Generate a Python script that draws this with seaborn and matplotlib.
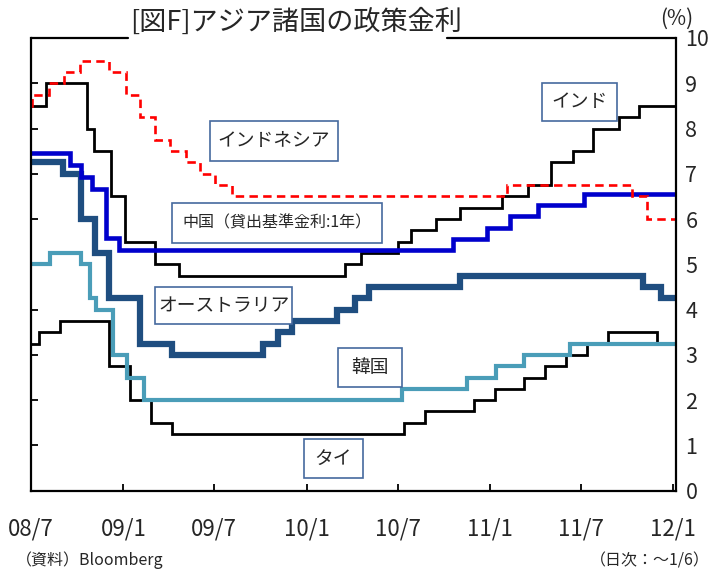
import matplotlib
matplotlib.use("Agg")
import matplotlib.pyplot as plt
from matplotlib.patches import Rectangle
from matplotlib.lines import Line2D
import pandas as pd
import seaborn as sns

sns.set_theme(style="white")
plt.rcParams["font.family"] = ["Liberation Sans Narrow", "Noto Sans CJK JP", "DejaVu Sans"]

W, H = 714, 569
START, END = "2008-07-01", "2012-01-06"

# Policy rate change dates and levels (%), step series
indonesia_dates = ["2008-07-01", "2008-07-03", "2008-08-05", "2008-09-04", "2008-10-07",
                   "2008-12-04", "2009-01-07", "2009-02-04", "2009-03-04", "2009-04-03",
                   "2009-05-05", "2009-06-03", "2009-07-03", "2009-08-05", "2011-02-04",
                   "2011-10-11", "2011-11-10"]
indonesia_rates = [8.5, 8.75, 9.0, 9.25, 9.5, 9.25, 8.75, 8.25, 7.75, 7.5,
                   7.25, 7.0, 6.75, 6.5, 6.75, 6.5, 6.0]

india_dates = ["2008-07-01", "2008-07-30", "2008-10-20", "2008-11-03", "2008-12-08",
               "2009-01-05", "2009-03-05", "2009-04-21", "2010-03-19", "2010-04-20",
               "2010-07-02", "2010-07-27", "2010-09-16", "2010-11-02", "2011-01-25",
               "2011-03-17", "2011-05-03", "2011-06-16", "2011-07-26", "2011-09-16",
               "2011-10-25"]
india_rates = [8.5, 9.0, 8.0, 7.5, 6.5, 5.5, 5.0, 4.75, 5.0, 5.25,
               5.5, 5.75, 6.0, 6.25, 6.5, 6.75, 7.25, 7.5, 8.0, 8.25, 8.5]

china_dates = ["2008-07-01", "2008-09-16", "2008-10-09", "2008-10-30", "2008-11-27",
               "2008-12-23", "2010-10-20", "2010-12-26", "2011-02-09", "2011-04-06",
               "2011-07-07"]
china_rates = [7.47, 7.20, 6.93, 6.66, 5.58, 5.31, 5.56, 5.81, 6.06, 6.31, 6.56]

australia_dates = ["2008-07-01", "2008-09-03", "2008-10-08", "2008-11-05", "2008-12-03",
                   "2009-02-04", "2009-04-08", "2009-10-07", "2009-11-04", "2009-12-02",
                   "2010-03-03", "2010-04-07", "2010-05-05", "2010-11-03", "2011-11-02",
                   "2011-12-07"]
australia_rates = [7.25, 7.0, 6.0, 5.25, 4.25, 3.25, 3.0, 3.25, 3.5, 3.75,
                   4.0, 4.25, 4.5, 4.75, 4.5, 4.25]

korea_dates = ["2008-07-01", "2008-08-07", "2008-10-09", "2008-10-27", "2008-11-07",
               "2008-12-11", "2009-01-09", "2009-02-12", "2010-07-09", "2010-11-16",
               "2011-01-13", "2011-03-10", "2011-06-10"]
korea_rates = [5.0, 5.25, 5.0, 4.25, 4.0, 3.0, 2.5, 2.0, 2.25, 2.5, 2.75, 3.0, 3.25]

thailand_dates = ["2008-07-01", "2008-07-16", "2008-08-27", "2008-12-03", "2009-01-14",
                  "2009-02-25", "2009-04-08", "2010-07-14", "2010-08-25", "2010-12-01",
                  "2011-01-12", "2011-03-09", "2011-04-20", "2011-06-01", "2011-07-13",
                  "2011-08-24", "2011-11-30"]
thailand_rates = [3.25, 3.5, 3.75, 2.75, 2.0, 1.5, 1.25, 1.5, 1.75, 2.0,
                  2.25, 2.5, 2.75, 3.0, 3.25, 3.5, 3.25]

tick_dates = ["2008-07-01", "2009-01-01", "2009-07-01", "2010-01-01",
              "2010-07-01", "2011-01-01", "2011-07-01", "2012-01-01"]
tick_labels = ["08/7", "09/1", "09/7", "10/1", "10/7", "11/1", "11/7", "12/1"]
y_ticks = list(range(0, 11))


def step_frame(dates, rates):
    d = pd.to_datetime(dates + [END])
    return pd.DataFrame({"date": d, "rate": rates + [rates[-1]]})


fig = plt.figure(figsize=(W / 100, H / 100), dpi=100)
fig.patch.set_facecolor("white")

# axes box in pixels: left 31, right 675.7, top 38, bottom 490.7
L, R, T, B = 31, 675.7, 38, 490.7
ax = fig.add_axes([L / W, 1 - B / H, (R - L) / W, (B - T) / H])
ax.set_facecolor("white")

series = [
    (thailand_dates, thailand_rates, dict(color="black", lw=2.0)),
    (india_dates, india_rates, dict(color="black", lw=2.0)),
    (korea_dates, korea_rates, dict(color="#4A9DB8", lw=3.0)),
    (australia_dates, australia_rates, dict(color="#1F4E80", lw=4.5)),
    (china_dates, china_rates, dict(color="#0000CC", lw=3.3)),
    (indonesia_dates, indonesia_rates, dict(color="#FF0000", lw=1.9, ls=(0, (3.2, 2.0)))),
]
for dates, rates, style in series:
    df = step_frame(dates, rates)
    sns.lineplot(data=df, x="date", y="rate", ax=ax, drawstyle="steps-post",
                 color=style["color"], lw=style["lw"], ls=style.get("ls", "-"),
                 solid_joinstyle="miter", dash_joinstyle="miter")

ax.set_xlim(pd.Timestamp(START), pd.Timestamp(END))
ax.set_ylim(0, 10)
ax.set_xlabel("")
ax.set_ylabel("")
ax.set_xticks(pd.to_datetime(tick_dates))
ax.set_xticklabels(tick_labels)
ax.set_yticks(y_ticks)
ax.set_yticklabels([str(v) for v in y_ticks])

ax.tick_params(axis="x", direction="in", length=5, width=1.3, color="black",
               labelsize=16, pad=19, bottom=True, top=False)
ax.tick_params(axis="y", direction="in", length=5, width=1.3, color="black",
               left=True, right=False, labelleft=False, labelright=True,
               labelsize=15.5, pad=7)
for lab in ax.get_yticklabels():
    lab.set_horizontalalignment("left")

for side in ["left", "right", "bottom"]:
    ax.spines[side].set_visible(True)
    ax.spines[side].set_color("black")
    ax.spines[side].set_linewidth(1.6)
ax.spines["top"].set_visible(False)
ax.grid(False)


def fx(x):
    return x / W


def fy(y):
    return 1 - y / H


# top frame line, interrupted by the title
for x0, x1 in [(L, 128), (447, R)]:
    fig.add_artist(Line2D([fx(x0), fx(x1)], [fy(T), fy(T)], color="black", lw=1.6,
                          transform=fig.transFigure))

fig.text(fx(130), fy(22.5), "[図F]アジア諸国の政策金利", fontsize=19.5,
         family=["Noto Sans CJK JP", "DejaVu Sans"], ha="left", va="center")
fig.text(fx(660), fy(19), "(%)", fontsize=15,
         family=["Noto Sans CJK JP", "DejaVu Sans"], ha="left", va="center")

# series name boxes
labels = [
    ("インド", 541.7, 82.7, 616.7, 120.7, 13.5),
    ("インドネシア", 210.3, 120.7, 337.7, 160.7, 13.5),
    ("中国（貸出基準金利:1年）", 171.7, 202.7, 382.3, 242.7, 11.5),
    ("オーストラリア", 155, 287.3, 292.3, 324.3, 13.5),
    ("韓国", 337.7, 348.3, 402.3, 386.7, 13.5),
    ("タイ", 304.3, 439.3, 362.7, 478.3, 13.5),
]
for text, x0, y0, x1, y1, fs in labels:
    rect = Rectangle((fx(x0), fy(y1)), fx(x1) - fx(x0), fy(y0) - fy(y1),
                     transform=fig.transFigure, facecolor="white",
                     edgecolor="#46699E", lw=1.2, zorder=5)
    fig.add_artist(rect)
    fig.text(fx((x0 + x1) / 2), fy((y0 + y1) / 2), text, fontsize=fs,
             family=["Noto Sans CJK JP", "DejaVu Sans"],
             ha="center", va="center", zorder=6)

fig.text(fx(16), fy(560), "（資料）Bloomberg", fontsize=11.5,
         family=["Noto Sans CJK JP", "DejaVu Sans"], ha="left", va="center")
fig.text(fx(710), fy(561.5), "（日次：～1/6）", fontsize=11.5,
         family=["Noto Sans CJK JP", "DejaVu Sans"], ha="right", va="center")

fig.savefig("out.png", dpi=100, facecolor="white")
